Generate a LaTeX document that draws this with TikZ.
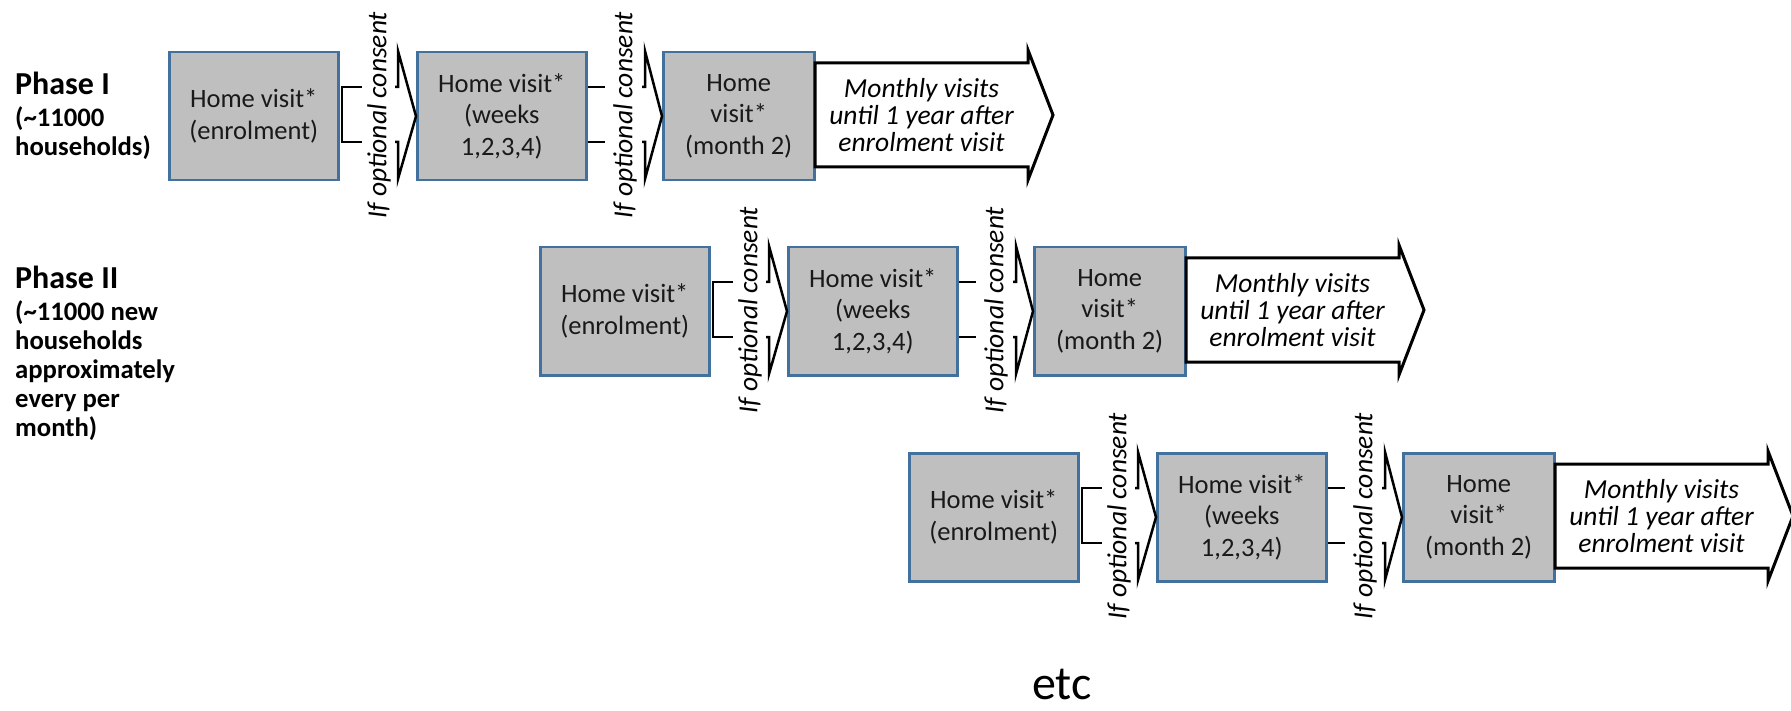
\documentclass[tikz,border=0pt]{standalone}
\usepackage{fontspec}
\setmainfont{Carlito}
\definecolor{boxgray}{HTML}{BFBFBF}
\definecolor{boxblue}{HTML}{41719C}
\tikzset{
  visitbox/.style={draw=boxblue, line width=2.5pt, fill=boxgray, minimum width=169pt, minimum height=128pt,
    inner sep=0pt, align=center, anchor=north west, font=\fontsize{26.5}{31.7}\selectfont, text=black!90},
  linkline/.style={draw=black, line width=2.5pt},
  consenttext/.style={rotate=90, font=\itshape\fontsize{27.5}{30}\selectfont, inner sep=0pt},
  monthlyarrow/.style={draw=black, fill=white, line width=3pt, line join=miter},
  monthlytext/.style={align=center, font=\itshape\fontsize{27.5}{27}\selectfont, inner sep=0pt},
  phaselabel/.style={anchor=base west, align=left, inner sep=0pt, font=\bfseries\fontsize{26.7}{28.8}\selectfont},
}
\newcommand\visitrow[2]{%
\begin{scope}[shift={#2}]
  \node[visitbox] (#1A) at (0,0) {Home visit*\\(enrolment)};
  \node[visitbox] (#1B) at (248,0) {Home visit*\\(weeks\\1,2,3,4)};
  \node[visitbox, minimum width=151pt] (#1C) at (494,0) {Home\\visit*\\(month 2)};
  % bracket after enrolment
  \coordinate (#1ua) at (174,36); \coordinate (#1ub) at (194,36);
  \coordinate (#1la) at (174,91); \coordinate (#1lb) at (194,91);
  \draw[linkline] (#1ub) -- (#1ua) -- (#1la) -- (#1lb);
  \node[consenttext] (#1T1) at (211,64) {If optional consent};
  \draw[linkline] (227,36) -- (230,36) -- (230,0) -- (#1B.west) -- (230,128) -- (230,91) -- (227,91);
  % stubs after weeks
  \coordinate (#1sa) at (437,36); \coordinate (#1sb) at (437,91);
  \draw[linkline] (#1B.east |- #1sa) -- (#1sa);
  \draw[linkline] (#1B.east |- #1sb) -- (#1sb);
  \node[consenttext] (#1T2) at (457,64) {If optional consent};
  \draw[linkline] (474,36) -- (477,36) -- (477,0) -- (#1C.west) -- (477,128) -- (477,91) -- (474,91);
  % monthly arrow
  \draw[monthlyarrow] (647,12) -- (860,12) -- (860,-1) -- (885,64) -- (860,129) -- (860,116) -- (647,116) -- cycle;
  \node[monthlytext] (#1M) at (753.5,64) {Monthly visits\\until 1 year after\\enrolment visit};
\end{scope}}
\begin{document}
\begin{tikzpicture}[x=1pt,y=-1pt]
\useasboundingbox (0,0) rectangle (1791,711);
\node[phaselabel] (ph1) at (15,155.6) {{\fontsize{32}{32}\selectfont Phase I}\\[3pt](\textasciitilde 11000\\households)};
\node[phaselabel] (ph2) at (15,436) {{\fontsize{32}{32}\selectfont Phase II}\\[4pt](\textasciitilde 11000 new\\households\\approximately\\every per\\month)};
\visitrow{ra}{(168,51)}
\visitrow{rb}{(539,246)}
\visitrow{rc}{(908,452)}
\node[font=\fontsize{48}{48}\selectfont, anchor=base, inner sep=0pt] (etc) at (1062,699) {etc};
\end{tikzpicture}
\end{document}
